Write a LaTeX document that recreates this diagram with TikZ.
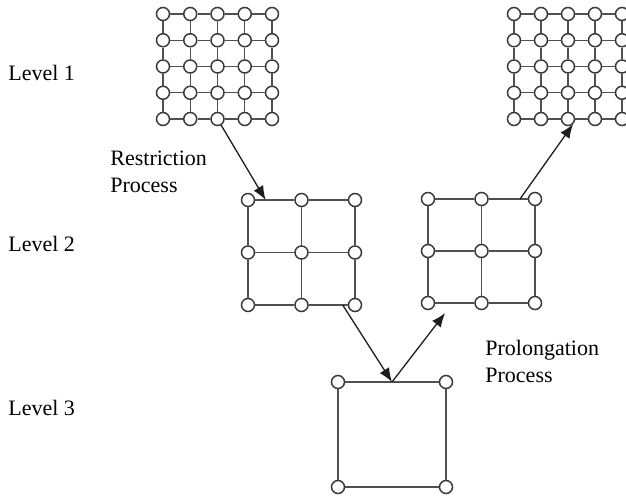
\documentclass[tikz,border=0pt]{standalone}
\usepackage{fontspec}
\setmainfont{Liberation Serif}
\usepackage{tikz}
\usetikzlibrary{
  arrows.meta,
  calc
}
\definecolor{GridGray}{HTML}{505050}
\definecolor{NodeGray}{HTML}{3A3A3A}
\definecolor{ArrowBlack}{HTML}{1E1E1E}
\tikzset{
  gridpoint/.style={
    circle,
    draw=NodeGray,
    line width=0.75pt,
    fill=white,
    inner sep=0pt,
    minimum size=6.5pt
  },
  gridline/.style={
    draw=GridGray,
    line width=0.7pt
  },
  levellabel/.style={
    anchor=west,
    inner sep=0pt,
    font=\fontsize{11}{13.5}\selectfont
  },
  process/.style={
    levellabel,
    align=left
  },
  transfer/.style={
    -{Latex[length=7pt,width=5.5pt]},
    line width=0.65pt,
    draw=ArrowBlack
  }
}
% name, x0, y0, dx, dy, points per side
\newcommand{\meshgrid}[6]{
  \foreach \i in {1,...,#6} {
    \foreach \j in {1,...,#6} {
      \node[gridpoint] (#1-\i-\j) at ({#2+(\i-1)*#4},{#3+(\j-1)*#5}) {};
    }
  }
  \foreach \i in {1,...,#6} {
    \foreach \j in {2,...,#6} {
      \pgfmathtruncatemacro{\p}{\j-1}
      \draw[gridline] (#1-\i-\p) -- (#1-\i-\j);
      \draw[gridline] (#1-\p-\i) -- (#1-\j-\i);
    }
  }
}

\begin{document}
\begin{tikzpicture}[
  x=0.5pt,
  y=-0.5pt
]

  \useasboundingbox (0,0) rectangle (626,499);

  % grids
  \meshgrid{fineA}{163}{14}{27.25}{26.25}{5}
  \meshgrid{fineB}{514}{14}{27}{26.25}{5}
  \meshgrid{midA}{248}{200}{53.5}{52.5}{3}
  \meshgrid{midB}{428}{199}{53.5}{52}{3}
  \meshgrid{coarse}{338}{382}{108}{105}{2}

  % level names
  \node[levellabel] (level1) at (8,73) {Level 1};
  \node[levellabel] (level2) at (8,244) {Level 2};
  \node[levellabel] (level3) at (8,408) {Level 3};

  \node[process] (restriction) at (110,171.5) {
    Restriction\\
    Process
  };

  \node[process] (prolongation) at (485,361) {
    Prolongation\\
    Process
  };

  % arrow ends on grid edges
  \coordinate (restrictEnd) at ($(midA-1-1)!0.33!(midA-2-1)$);
  \coordinate (midStart) at ($(midA-2-3)!0.77!(midA-3-3)$);
  \coordinate (coarseTop) at ($(coarse-1-1)!0.5!(coarse-2-1)$);
  \coordinate (prolongEnd) at ($(midB-1-3)!0.32!(midB-2-3)+(0,10)$);
  \coordinate (fineStart) at ($(midB-2-1)!0.72!(midB-3-1)$);

  \draw[transfer]
  (fineA-3-5) --
  (restrictEnd);

  \draw[transfer]
  (midStart) --
  (coarseTop);

  \draw[transfer]
  (coarseTop) --
  (prolongEnd);

  \draw[transfer]
  (fineStart) --
  (fineB-3-5.south east);

\end{tikzpicture}
\end{document}
